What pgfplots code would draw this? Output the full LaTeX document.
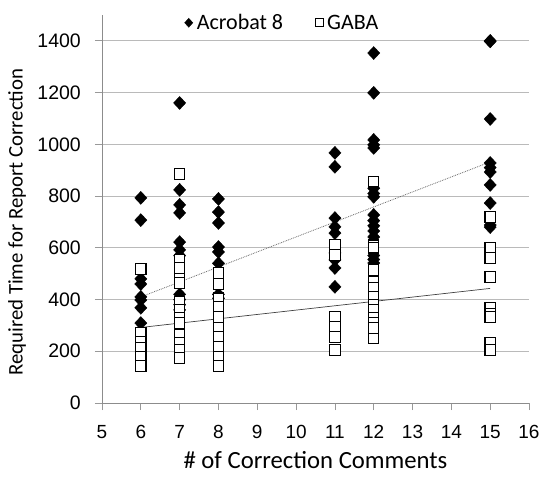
\documentclass[border=0pt]{standalone}
\usepackage{pgfplots}
\pgfplotsset{compat=1.18}
\usepackage{fontspec}
\setmainfont{Carlito}
\newfontfamily\tickfont{Liberation Sans}
\begin{document}
\begin{tikzpicture}
\begin{axis}[
  name=ax,
  scale only axis,
  width=427bp, height=388bp,
  xmin=5, xmax=16, ymin=0, ymax=1500,
  xtick={5,...,16}, ytick={0,200,...,1400},
  axis x line=bottom, axis y line=left,
  axis line style={-, black!45, line width=0.8pt},
  tick style={black!40, line width=0.8pt},
  tick align=outside, major tick length=7bp,
  ymajorgrids, grid style={black!27, line width=0.8pt},
  /pgf/number format/assume math mode=true,
  /pgf/number format/1000 sep={},
  ticklabel style={inner sep=0pt},
  xticklabel style={font=\tickfont\fontsize{19bp}{22bp}\selectfont, anchor=north, yshift=-15.5bp},
  yticklabel style={font=\tickfont\fontsize{19.5bp}{22bp}\selectfont, anchor=east, xshift=-14bp},
  xlabel={\# of Correction Comments},
  ylabel={Required Time for Report Correction},
  xlabel style={font=\fontsize{24.7bp}{28bp}\selectfont, at={(axis description cs:0.5,-0.1469)}, anchor=center},
  ylabel style={font=\fontsize{20.8bp}{24bp}\selectfont, at={(axis description cs:-0.199,0.466)}, anchor=center},
  legend style={at={(axis description cs:0.425,0.98)}, anchor=center, draw=none, fill=none,
    legend columns=2, font=\fontsize{22bp}{26bp}\selectfont,
    nodes={inner sep=4bp},
    /tikz/every even column/.append style={column sep=28bp}},
  legend cell align=left,
  clip=false,
]
\addlegendimage{only marks, mark=diamond*, mark size=4.5bp, mark options={xscale=1.2, fill=black, draw=black}}
\addlegendentry{Acrobat 8}
\addlegendimage{only marks, mark=square, mark size=4bp, mark options={draw=black, line width=0.6pt}}
\addlegendentry{GABA}
\addplot[only marks, forget plot, mark=diamond*, mark size=6.5bp, mark options={xscale=1.25, fill=black, draw=black}] coordinates {
(6,793) (6,707) (6,480) (6,460) (6,410) (6,398) (6,368) (6,309)
(7,1160) (7,824) (7,766) (7,735) (7,622) (7,592) (7,570) (7,420) (7,400) (7,380) (7,360)
(8,789) (8,738) (8,696) (8,603) (8,584) (8,540) (8,420) (8,405)
(11,967) (11,913) (11,715) (11,681) (11,657) (11,580) (11,553) (11,522) (11,449)
(12,1353) (12,1199) (12,1017) (12,998) (12,986) (12,830) (12,810) (12,797) (12,727) (12,705) (12,685) (12,665) (12,642) (12,570) (12,555) (12,541)
(15,1400) (15,1398) (15,1098) (15,928) (15,910) (15,893) (15,843) (15,773) (15,688) (15,680)
};
\addplot[only marks, forget plot, mark=square*, mark size=5.2bp, mark options={fill=white, draw=black, line width=1.1pt}] coordinates {
(6,518) (6,271) (6,236) (6,213) (6,178) (6,143)
(7,885) (7,553) (7,522) (7,480) (7,464) (7,391) (7,360) (7,329) (7,309) (7,263) (7,232) (7,205) (7,174)
(8,503) (8,460) (8,405) (8,371) (8,333) (8,290) (8,255) (8,217) (8,178) (8,143)
(11,611) (11,572) (11,333) (11,294) (11,255) (11,205)
(12,855) (12,610) (12,600) (12,514) (12,470) (12,445) (12,410) (12,380) (12,360) (12,330) (12,310) (12,290) (12,250)
(15,719) (15,600) (15,561) (15,487) (15,367) (15,345) (15,333) (15,232) (15,205)
};
\addplot[black!60, densely dotted, line width=0.8pt, forget plot] coordinates {(6,410) (15,932)};
\addplot[black!75, line width=0.7pt, forget plot] coordinates {(6,292) (15,443)};
\end{axis}
\path ([shift={(-102bp,-74bp)}]ax.south west) rectangle ([shift={(13bp,15bp)}]ax.north east);
\end{tikzpicture}
\end{document}
